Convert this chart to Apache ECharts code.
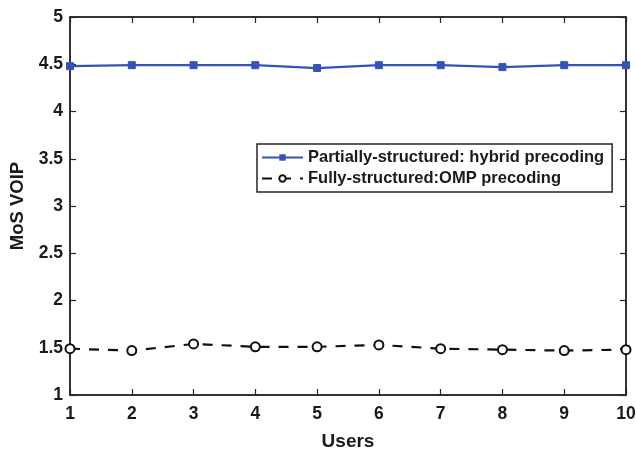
<!DOCTYPE html>
<html lang="en">
<head>
    <meta charset="UTF-8">
    <title>MoS VOIP vs Users</title>
    <style type="text/css">
    body, html {
        width: 100%;
        height: 100%;
        margin: 0;
        padding: 0;
        background: #fff;
    }
    #main {
        width: 636px;
        height: 449px;
    }
    </style>
</head>
<body>
    <div id="main"></div>
    <script src="https://cdn.jsdelivr.net/npm/echarts@6/dist/echarts.min.js"></script>
    <script type="text/javascript">
    // data
    var users = [1, 2, 3, 4, 5, 6, 7, 8, 9, 10];
    var hybridMos = [4.48, 4.49, 4.49, 4.49, 4.46, 4.49, 4.49, 4.47, 4.49, 4.49];
    var ompMos = [1.49, 1.47, 1.54, 1.51, 1.51, 1.53, 1.49, 1.48, 1.47, 1.48];
    var yTicks = [1, 1.5, 2, 2.5, 3, 3.5, 4, 4.5, 5];

    var font = 'Liberation Sans';
    var axisColor = '#262626';
    var textColor = '#1a1a1a';

    function pairs(vals) {
        var out = [];
        for (var i = 0; i < users.length; i++) {
            out.push([users[i], vals[i]]);
        }
        return out;
    }

    var chart = echarts.init(document.getElementById('main'));

    var option = {
        animation: false,
        textStyle: { fontFamily: font },
        grid: {
            left: 70,
            right: 10,
            top: 17,
            bottom: 54,
            outerBoundsMode: 'none',
            containLabel: false,
            show: true,
            borderColor: axisColor,
            borderWidth: 1.5
        },
        legend: {
            orient: 'vertical',
            left: 257,
            top: 144,
            padding: [5, 8, 5, 4],
            itemGap: 4,
            itemWidth: 41,
            itemHeight: 8,
            borderColor: axisColor,
            borderWidth: 1.5,
            backgroundColor: '#fff',
            textStyle: {
                fontFamily: font,
                fontWeight: 'bold',
                fontSize: 16.5,
                color: textColor
            },
            data: ['Partially-structured: hybrid precoding', 'Fully-structured:OMP precoding']
        },
        xAxis: [{
            type: 'value',
            min: 1,
            max: 10,
            interval: 1,
            name: 'Users',
            nameLocation: 'middle',
            nameGap: 37,
            nameTextStyle: { fontFamily: font, fontWeight: 'bold', fontSize: 19, color: textColor },
            axisLine: { show: true, lineStyle: { color: axisColor, width: 1.5 } },
            axisTick: { show: true, inside: true, length: 6, lineStyle: { color: axisColor, width: 1.2 } },
            axisLabel: { fontFamily: font, fontWeight: 'bold', fontSize: 17.5, color: textColor, margin: 10 },
            splitLine: { show: false }
        }, {
            type: 'value',
            position: 'top',
            min: 1,
            max: 10,
            interval: 1,
            axisLine: { show: true, lineStyle: { color: axisColor, width: 1.5 } },
            axisTick: { show: true, inside: true, length: 6, lineStyle: { color: axisColor, width: 1.2 } },
            axisLabel: { show: false },
            splitLine: { show: false }
        }],
        yAxis: [{
            type: 'value',
            min: yTicks[0],
            max: yTicks[yTicks.length - 1],
            interval: 0.5,
            name: 'MoS VOIP',
            nameLocation: 'middle',
            nameGap: 38,
            nameTextStyle: { fontFamily: font, fontWeight: 'bold', fontSize: 18.5, color: textColor },
            axisLine: { show: true, lineStyle: { color: axisColor, width: 1.5 } },
            axisTick: { show: true, inside: true, length: 6, lineStyle: { color: axisColor, width: 1.2 } },
            axisLabel: { fontFamily: font, fontWeight: 'bold', fontSize: 17.5, color: textColor, margin: 7 },
            splitLine: { show: false }
        }, {
            type: 'value',
            position: 'right',
            min: yTicks[0],
            max: yTicks[yTicks.length - 1],
            interval: 0.5,
            axisLine: { show: true, lineStyle: { color: axisColor, width: 1.5 } },
            axisTick: { show: true, inside: true, length: 6, lineStyle: { color: axisColor, width: 1.2 } },
            axisLabel: { show: false },
            splitLine: { show: false }
        }],
        series: [{
            name: 'Partially-structured: hybrid precoding',
            type: 'line',
            data: pairs(hybridMos),
            symbol: 'rect',
            symbolSize: 7,
            itemStyle: { color: '#3553b5', borderColor: '#3553b5' },
            lineStyle: { color: '#3553b5', width: 2.2 },
            z: 3
        }, {
            name: 'Fully-structured:OMP precoding',
            type: 'line',
            data: pairs(ompMos),
            symbol: 'circle',
            symbolSize: 9,
            itemStyle: { color: '#fff', borderColor: '#111', borderWidth: 2 },
            lineStyle: { color: '#111', width: 2.2, type: [10, 9] },
            z: 3
        }]
    };

    chart.setOption(option);
    </script>
</body>
</html>
